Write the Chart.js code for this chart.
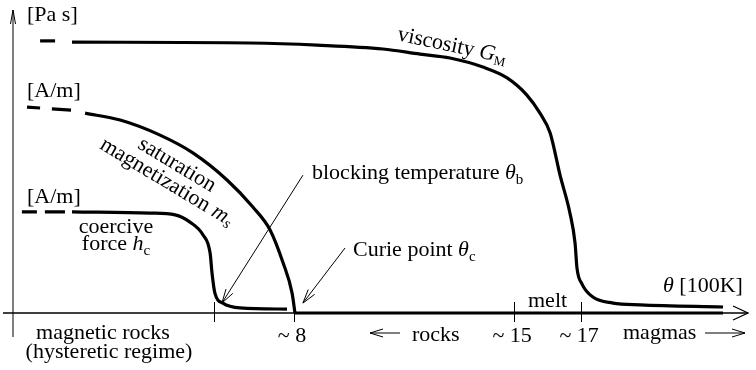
<!DOCTYPE html>
<html>
<head>
<meta charset="utf-8">
<script src="https://cdn.jsdelivr.net/npm/chart.js@4"></script>
<style>
  html, body { margin: 0; padding: 0; background: #fff; }
</style>
</head>
<body>
<canvas id="chart" width="756" height="370"></canvas>
<script>
// schematic: theta in [100K], every curve normalised to its own unit
const viscLeadTheta = [0.04, 0.51];
const viscLeadValue = [0.904, 0.904];
const viscTheta = [1.04, 6.62, 8.72, 10.79, 11.95, 12.89, 13.92, 14.68, 15.30, 15.71, 16.03, 16.34, 16.65, 16.81, 16.87, 17.03, 17.37, 18.00, 18.85, 21.45];
const viscValue = [0.900, 0.897, 0.890, 0.877, 0.860, 0.847, 0.817, 0.781, 0.724, 0.664, 0.598, 0.458, 0.332, 0.233, 0.150, 0.096, 0.053, 0.033, 0.027, 0.020];

const magLeadTheta = [-0.37, 0.04, 0.41, 1.01];
const magLeadValue = [0.684, 0.681, 0.678, 0.674];
const magTheta = [1.45, 2.55, 3.80, 4.83, 5.90, 6.71, 7.25, 7.66, 7.94, 8.03];
const magValue = [0.664, 0.641, 0.591, 0.532, 0.442, 0.352, 0.276, 0.166, 0.066, 0];
const magZeroTheta = [8.03, 21.45];
const magZeroValue = [0, 0];

const coerLeadTheta = [-0.53, -0.06, 0.19, 0.82];
const coerLeadValue = [0.336, 0.336, 0.336, 0.336];
const coerTheta = [1.04, 3.49, 4.27, 4.74, 5.15, 5.37, 5.43, 5.52, 5.77, 6.31, 7.78];
const coerValue = [0.336, 0.332, 0.326, 0.302, 0.259, 0.199, 0.133, 0.066, 0.033, 0.017, 0.013];

const tickTheta = [5.5, 8, 14.9, 17];
const tickLabels = ['', '~ 8', '~ 15', '~ 17'];

const pts = (xs, ys) => xs.map((x, i) => ({ x: x, y: ys[i] }));
// dashed lead-ins: pairs of points, broken by a gap
const dashes = (xs, ys) => {
  const out = [];
  for (let i = 0; i < xs.length; i += 2) {
    if (i > 0) out.push({ x: (xs[i - 1] + xs[i]) / 2, y: null });
    out.push({ x: xs[i], y: ys[i] }, { x: xs[i + 1], y: ys[i + 1] });
  }
  return out;
};

const SERIF = "'Liberation Serif', 'Times New Roman', serif";
const R = (t) => ({ text: t, font: '22px ' + SERIF });
const I = (t) => ({ text: t, font: 'italic 22px ' + SERIF });
const S = (t) => ({ text: t, font: '15px ' + SERIF, dy: 5 });

function rich(ctx, parts, x, y, align) {
  let w = 0;
  parts.forEach((p) => { ctx.font = p.font; w += ctx.measureText(p.text).width; });
  let cx = align === 'center' ? x - w / 2 : x;
  parts.forEach((p) => {
    ctx.font = p.font;
    ctx.fillText(p.text, cx, y + (p.dy || 0));
    cx += ctx.measureText(p.text).width;
  });
}

function seg(ctx, x1, y1, x2, y2) {
  ctx.beginPath();
  ctx.moveTo(x1, y1);
  ctx.lineTo(x2, y2);
  ctx.stroke();
}

// line from (x1,y1) to (x2,y2) with an open head at the end
function arrow(ctx, x1, y1, x2, y2, len, half) {
  seg(ctx, x1, y1, x2, y2);
  const a = Math.atan2(y2 - y1, x2 - x1);
  const bx = x2 - len * Math.cos(a), by = y2 - len * Math.sin(a);
  const nx = -Math.sin(a) * half, ny = Math.cos(a) * half;
  ctx.beginPath();
  ctx.moveTo(bx + nx, by + ny);
  ctx.lineTo(x2, y2);
  ctx.lineTo(bx - nx, by - ny);
  ctx.stroke();
}

const sketch = {
  id: 'sketch',
  beforeDatasetsDraw(chart) {
    const { ctx, chartArea: a, scales: { x, y } } = chart;
    const y0 = y.getPixelForValue(0);
    ctx.save();
    ctx.strokeStyle = '#000';
    ctx.lineWidth = 1.3;
    arrow(ctx, 3, y0, a.right, y0, 15, 7);
    ctx.lineWidth = 1;
    arrow(ctx, a.left, y0 + 24, a.left, a.top - 2, 14, 2.5);
    tickTheta.forEach((t) => {
      const px = Math.round(x.getPixelForValue(t)) + 0.5;
      seg(ctx, px, y0 - 11, px, y0 + 9);
    });
    ctx.restore();
  },
  afterDatasetsDraw(chart) {
    const { ctx, scales: { x, y } } = chart;
    ctx.save();
    ctx.fillStyle = '#000';
    ctx.strokeStyle = '#000';
    ctx.textBaseline = 'alphabetic';
    ctx.textAlign = 'left';

    tickTheta.forEach((t, i) => {
      if (tickLabels[i]) rich(ctx, [R(tickLabels[i])], x.getPixelForValue(t) - 2, 342, 'center');
    });

    rich(ctx, [R('[Pa s]')], 27, 21);
    rich(ctx, [R('[A/m]')], 27, 97);
    rich(ctx, [R('[A/m]')], 27, 203);
    rich(ctx, [R('coercive')], 116, 233, 'center');
    rich(ctx, [R('force '), I('h'), S('c')], 116, 250, 'center');
    rich(ctx, [R('magnetic rocks')], 103, 339, 'center');
    rich(ctx, [R('(hysteretic regime)')], 109, 358, 'center');
    rich(ctx, [R('rocks')], 412, 341);
    rich(ctx, [R('magmas')], 623, 339);
    rich(ctx, [R('melt')], 528, 307);
    rich(ctx, [I('θ'), R(' [100K]')], 663, 292);
    rich(ctx, [R('blocking temperature '), I('θ'), S('b')], 312, 179);
    rich(ctx, [R('Curie point '), I('θ'), S('c')], 353, 256);

    // rotated curve names
    ctx.save();
    ctx.translate(452, 46);
    ctx.rotate(12 * Math.PI / 180);
    ctx.textBaseline = 'middle';
    rich(ctx, [R('viscosity '), I('G'), { text: 'M', font: '13px ' + SERIF, dy: 6 }], 0, 0, 'center');
    ctx.restore();

    ctx.save();
    ctx.translate(177, 165);
    ctx.rotate(31 * Math.PI / 180);
    ctx.textBaseline = 'middle';
    rich(ctx, [R('saturation')], 0, 0, 'center');
    rich(ctx, [R('magnetization '), I('m'), { text: 's', font: 'italic 15px ' + SERIF, dy: 5 }], 0, 20, 'center');
    ctx.restore();

    ctx.lineWidth = 1;
    arrow(ctx, 400, 333, 370, 333, 13, 4);
    arrow(ctx, 705, 333, 745, 333, 13, 4);
    arrow(ctx, x.getPixelForValue(8.28), y.getPixelForValue(0.458), x.getPixelForValue(5.74), y.getPixelForValue(0.033), 14, 4);
    arrow(ctx, x.getPixelForValue(9.6), y.getPixelForValue(0.216), x.getPixelForValue(8.28), y.getPixelForValue(0.033), 14, 4);
    ctx.restore();
  }
};

const solid = (data) => ({
  data: data,
  borderColor: '#000',
  borderWidth: 3.2,
  pointRadius: 0,
  cubicInterpolationMode: 'monotone',
  clip: false
});
const lead = (data) => ({
  data: data,
  borderColor: '#000',
  borderWidth: 3.2,
  pointRadius: 0,
  spanGaps: false,
  tension: 0,
  clip: false
});

new Chart(document.getElementById('chart'), {
  type: 'line',
  data: {
    datasets: [
      lead(dashes(viscLeadTheta, viscLeadValue)),
      solid(pts(viscTheta, viscValue)),
      lead(dashes(magLeadTheta, magLeadValue)),
      solid(pts(magTheta, magValue)),
      lead(pts(magZeroTheta, magZeroValue)),
      lead(dashes(coerLeadTheta, coerLeadValue)),
      solid(pts(coerTheta, coerValue))
    ]
  },
  options: {
    responsive: false,
    animation: false,
    layout: { padding: { left: 13, right: 8, top: 12, bottom: 57 } },
    plugins: { legend: { display: false }, tooltip: { enabled: false } },
    scales: {
      x: { type: 'linear', min: -0.809, max: 22.232, display: false },
      y: { type: 'linear', min: 0, max: 1, display: false }
    }
  },
  plugins: [sketch]
});
</script>
</body>
</html>
